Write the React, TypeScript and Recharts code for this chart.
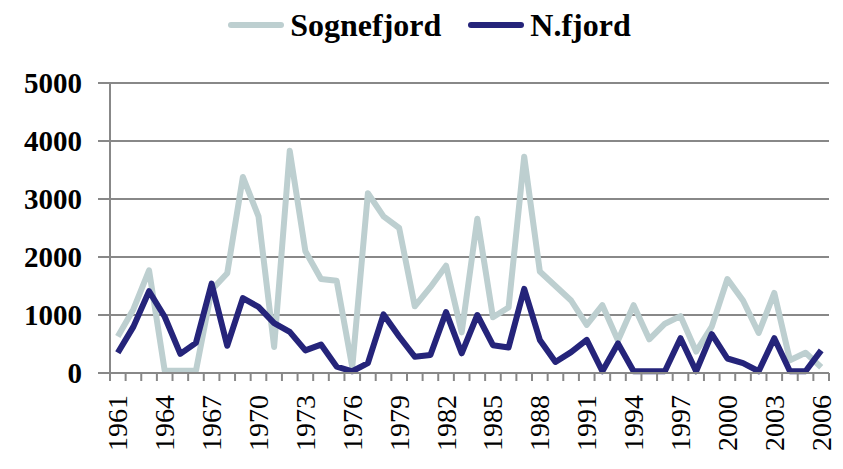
import React from 'react'
import { LineChart, Line, XAxis, YAxis, CartesianGrid, Legend } from 'recharts'

const years = [
  1961, 1962, 1963, 1964, 1965, 1966, 1967, 1968, 1969, 1970,
  1971, 1972, 1973, 1974, 1975, 1976, 1977, 1978, 1979, 1980,
  1981, 1982, 1983, 1984, 1985, 1986, 1987, 1988, 1989, 1990,
  1991, 1992, 1993, 1994, 1995, 1996, 1997, 1998, 1999, 2000,
  2001, 2002, 2003, 2004, 2005, 2006,
]

const sognefjord = [
  630, 1100, 1770, 40, 40, 40, 1430, 1720, 3380, 2700,
  450, 3830, 2100, 1620, 1590, 100, 3100, 2700, 2500, 1150,
  1480, 1850, 700, 2660, 960, 1130, 3730, 1750, 1500, 1250,
  830, 1170, 560, 1170, 580, 850, 980, 370, 800, 1620,
  1250, 690, 1380, 220, 350, 100,
]

const nfjord = [
  350, 800, 1410, 970, 330, 520, 1540, 470, 1290, 1140,
  860, 710, 390, 490, 110, 30, 170, 1010, 630, 280,
  310, 1050, 340, 1000, 480, 440, 1450, 570, 190, 360,
  570, 30, 510, 30, 30, 30, 600, 30, 670, 250,
  170, 30, 600, 30, 30, 390,
]

const yTicks = [0, 1000, 2000, 3000, 4000, 5000]

const data = years.map((year, i) => ({
  year,
  sogne: sognefjord[i],
  nfjord: nfjord[i],
}))

const W = 843
const H = 469
const LEFT = 110
const RIGHT = 14
const BAND = (W - LEFT - RIGHT) / years.length
const FONT = 'Liberation Serif, DejaVu Serif, serif'
const GRID = '#888888'

function YearTick(props: any) {
  const { x, y, payload, index } = props
  const showLabel = (payload.value - years[0]) % 3 === 0
  const last = index === years.length - 1
  return (
    <g>
      <line x1={x - BAND / 2} x2={x - BAND / 2} y1={y} y2={y + 8} stroke={GRID} strokeWidth={2} />
      {last && (
        <line x1={x + BAND / 2} x2={x + BAND / 2} y1={y} y2={y + 8} stroke={GRID} strokeWidth={2} />
      )}
      {showLabel && (
        <text
          transform={`translate(${x},${y + 22}) rotate(-90)`}
          textAnchor="end"
          dominantBaseline="central"
          fontSize={28}
          fill="#000"
        >
          {payload.value}
        </text>
      )}
    </g>
  )
}

function LegendBox() {
  const items = [
    { name: 'Sognefjord', color: '#BDCFD0' },
    { name: 'N.fjord', color: '#25247A' },
  ]
  return (
    <div style={{ display: 'flex', justifyContent: 'center', gap: 27, height: 50, alignItems: 'center', paddingLeft: 30 }}>
      {items.map((it) => (
        <div key={it.name} style={{ display: 'flex', alignItems: 'center' }}>
          <div style={{ width: 56, height: 6, borderRadius: 3, background: it.color, marginRight: 6 }} />
          <span style={{ fontWeight: 'bold', fontSize: 32, color: '#000' }}>{it.name}</span>
        </div>
      ))}
    </div>
  )
}

export default function App() {
  return (
    <div style={{ margin: -8, width: W, height: H, background: '#fff', fontFamily: FONT }}>
      <LineChart width={W} height={H} data={data} margin={{ top: 33, right: RIGHT, left: 0, bottom: 0 }}>
        <Legend verticalAlign="top" height={50} wrapperStyle={{ top: 0 }} content={<LegendBox />} />
        <CartesianGrid vertical={false} stroke={GRID} strokeWidth={2} />
        <XAxis
          dataKey="year"
          interval={0}
          height={96}
          padding={{ left: BAND / 2, right: BAND / 2 }}
          tickSize={0}
          tickMargin={0}
          tickLine={false}
          axisLine={{ stroke: GRID, strokeWidth: 2 }}
          tick={<YearTick />}
        />
        <YAxis
          domain={[0, 5000]}
          ticks={yTicks}
          width={LEFT}
          tickSize={12}
          tickMargin={16}
          axisLine={{ stroke: GRID, strokeWidth: 2 }}
          tickLine={{ stroke: GRID, strokeWidth: 2 }}
          tick={{ fontSize: 29, fontWeight: 'bold', fill: '#000' }}
        />
        <Line
          dataKey="sogne"
          name="Sognefjord"
          stroke="#BDCFD0"
          strokeWidth={6}
          strokeLinejoin="round"
          dot={false}
          isAnimationActive={false}
        />
        <Line
          dataKey="nfjord"
          name="N.fjord"
          stroke="#25247A"
          strokeWidth={6}
          strokeLinejoin="round"
          dot={false}
          isAnimationActive={false}
        />
      </LineChart>
    </div>
  )
}
